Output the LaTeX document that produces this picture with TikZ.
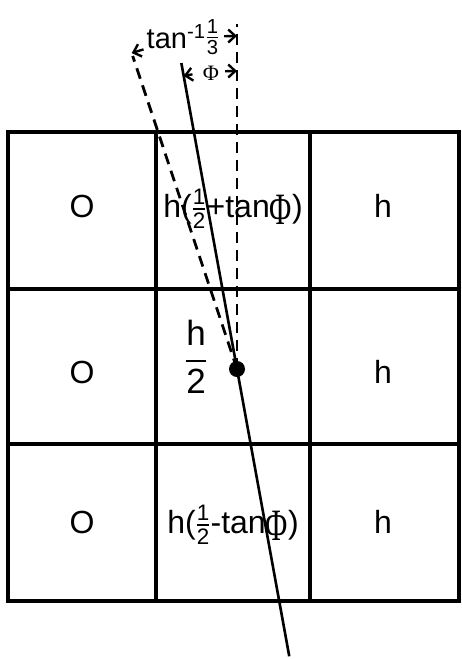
\RequirePackage{fix-cm}
\documentclass[tikz,border=0pt]{standalone}
\usepackage{amsmath}
\usepackage{graphicx}
\usepackage[no-math]{fontspec}
\setmainfont{Liberation Sans}
\newfontfamily\phifont{Liberation Serif}
\usepackage{tikz}
\usetikzlibrary{calc,arrows.meta}

\newcommand{\halffrac}{$\genfrac{}{}{1.3pt}{1}{\text{1}}{\text{2}}$}
\newcommand{\bigphi}{\raisebox{-0.22em}{\scalebox{0.95}[1.4]{\phifont Φ}}}

\begin{document}
\begin{tikzpicture}[x=1pt,y=-1pt,
  gridline/.style={line width=3.2pt},
  cell/.style={font=\fontsize{32}{35}\selectfont, inner sep=0pt, anchor=base},
  ray/.style={line width=2.6pt},
  guide/.style={line width=2.8pt, dash pattern=on 11pt off 7pt},
  angletip/.style={line width=2.4pt, -{Straight Barb[length=7pt,width=13pt]}}]
\useasboundingbox (0,0) rectangle (462,659);
\draw[gridline] (8,132) rectangle (459,601);
\draw[gridline] (156,132) -- (156,601);
\draw[gridline] (310,132) -- (310,601);
\draw[gridline] (8,289) -- (459,289);
\draw[gridline] (8,444) -- (459,444);
\node[cell] (zeroA) at (82,217) {O};
\node[cell] (zeroB) at (82,383) {O};
\node[cell] (zeroC) at (82,533) {O};
\node[cell] (hA) at (383,217) {h};
\node[cell] (hB) at (383,383) {h};
\node[cell] (hC) at (383,533) {h};
\node[cell] (upper) at (233,217) {h(\halffrac+tan\bigphi)};
\node[cell] (lower) at (233,533) {h(\halffrac-tan\bigphi)};
\node[cell, font=\fontsize{35}{38}\selectfont, anchor=center] (half) at (196,357) {$\genfrac{}{}{2.4pt}{0}{\text{h}}{\text{2}}$};
\coordinate (dot) at (237,369);
\coordinate (raytop) at ($(dot)+(-100.31:311)$);
\coordinate (raybot) at ($(dot)+(79.69:292)$);
\coordinate (vtop) at (237,24);
\coordinate (slanttop) at ($(dot)+(-108.43:330)$);
\draw[guide] (dot) -- (vtop);
\draw[guide] (dot) -- (slanttop);
\draw[ray] (raytop) -- (raybot);
\fill (dot) circle[radius=8];
\draw[angletip] ($(dot)+(-106.3:333)$) arc[start angle=-106.3, end angle=-108.43, radius=333];
\draw[angletip] ($(dot)+(-92.2:333)$) arc[start angle=-92.2, end angle=-90, radius=333];
\node[font=\fontsize{29}{31}\selectfont, inner sep=0pt] (tanlabel) at (183,37) {tan$^{\text{-1}}$\raisebox{4pt}{$\genfrac{}{}{1.2pt}{1}{\text{1}}{\text{3}}$}};
\draw[angletip] ($(dot)+(-98.6:298)$) arc[start angle=-98.6, end angle=-100.31, radius=298];
\draw[angletip] ($(dot)+(-92.3:298)$) arc[start angle=-92.3, end angle=-90, radius=298];
\node[font=\fontsize{22}{24}\selectfont\phifont, inner sep=0pt] (philabel) at (211,73) {Φ};
\end{tikzpicture}
\end{document}
